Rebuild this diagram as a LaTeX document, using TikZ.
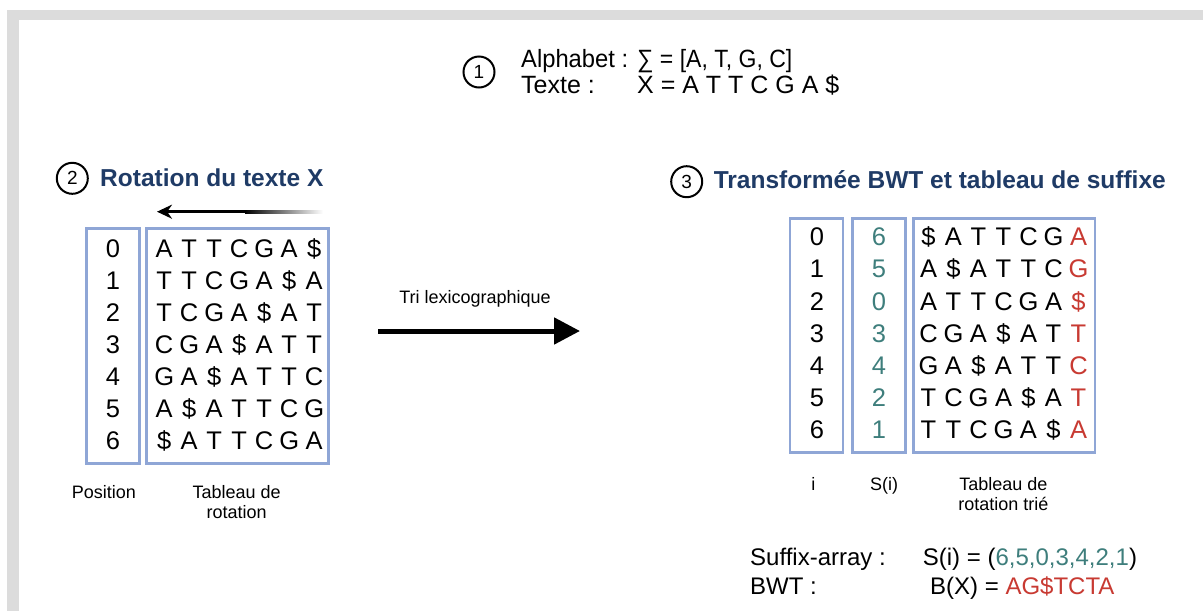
\documentclass[tikz,border=0pt]{standalone}
\usepackage{fontspec}
\setmainfont{Liberation Sans}
\usetikzlibrary{arrows.meta}
\definecolor{framegray}{HTML}{DCDCDC}
\definecolor{boxblue}{HTML}{8FA6D6}
\definecolor{titlenavy}{HTML}{1F3B66}
\definecolor{sidteal}{HTML}{3E7E7C}
\definecolor{bwtred}{HTML}{C83A32}
\newcommand\tcell[1]{\makebox[25pt][c]{#1}}
\newcommand\rotrow[7]{\tcell{#1}\tcell{#2}\tcell{#3}\tcell{#4}\tcell{#5}\tcell{#6}\tcell{#7}}
\newcommand\rotrowred[7]{\tcell{#1}\tcell{#2}\tcell{#3}\tcell{#4}\tcell{#5}\tcell{#6}\tcell{\textcolor{bwtred}{#7}}}
\begin{document}
\begin{tikzpicture}[x=1pt,y=-1pt,
  num/.style={circle,draw,line width=2pt,minimum size=31pt,inner sep=0pt,font=\fontsize{19}{19}\selectfont},
  txt/.style={anchor=base west,inner sep=0pt},
  toptxt/.style={txt,font=\fontsize{25}{30}\selectfont},
  bottxt/.style={txt,font=\fontsize{24}{29}\selectfont},
  lbl/.style={anchor=base,inner sep=0pt,font=\fontsize{18}{22}\selectfont},
  tbox/.style={draw=boxblue,line width=2.5pt,inner sep=0pt},
  cellt/.style={anchor=base,inner sep=0pt,font=\fontsize{25.5}{30}\selectfont},
  rowt/.style={anchor=base west,inner sep=0pt,font=\fontsize{25.5}{30}\selectfont},
  ttl/.style={anchor=base west,inner sep=0pt,text=titlenavy,font=\bfseries\fontsize{24.5}{29}\selectfont}]
\useasboundingbox (0,0) rectangle (1203,611);
% frame
\fill[framegray] (7,10) rectangle (1203,611);
\fill[white] (19,20) rectangle (1203,611);

% ---- part 1
\node[num] (c1) at (479,72) {1};
\node[toptxt] (alpha) at (521,67) {\scalebox{0.95}[1]{Alphabet :}};
\node[toptxt] (sigma) at (637,67) {\scalebox{0.92}[1]{∑ = [A, T, G, C]}};
\node[toptxt] (texte) at (521,93) {Texte :};
\node[toptxt] (xval) at (637,93) {X = A T T C G A \$};

% ---- part 2
\node[num] (c2) at (72.3,178.3) {2};
\node[ttl] (t2) at (100,186.7) {Rotation du texte X};
\coordinate (ga) at (157,211.7);
\coordinate (gb) at (245,211.7);
\shade[left color=black,right color=white] (245,210.2) rectangle (323,213.2);
\draw[line width=3pt,-{Stealth[length=15pt,width=14pt]}] (gb) -- (ga);

\node[tbox,minimum width=52.6pt,minimum height=235pt] (posbox) at (113,345.8) {};
\node[tbox,minimum width=181.6pt,minimum height=235pt] (rotbox) at (237.5,345.8) {};
\foreach \i in {0,...,6}
  \node[cellt] (p\i) at (113,257.3+32*\i) {\i};
\node[rowt] (r0) at (151.5,257.3) {\rotrow{A}{T}{T}{C}{G}{A}{\$}};
\node[rowt] (r1) at (151.5,289.3) {\rotrow{T}{T}{C}{G}{A}{\$}{A}};
\node[rowt] (r2) at (151.5,321.3) {\rotrow{T}{C}{G}{A}{\$}{A}{T}};
\node[rowt] (r3) at (151.5,353.3) {\rotrow{C}{G}{A}{\$}{A}{T}{T}};
\node[rowt] (r4) at (151.5,385.3) {\rotrow{G}{A}{\$}{A}{T}{T}{C}};
\node[rowt] (r5) at (151.5,417.3) {\rotrow{A}{\$}{A}{T}{T}{C}{G}};
\node[rowt] (r6) at (151.5,449.3) {\rotrow{\$}{A}{T}{T}{C}{G}{A}};
\node[lbl] (lpos) at (104,498.3) {Position};
\node[lbl] (lrot1) at (236.7,498.3) {Tableau de};
\node[lbl] (lrot2) at (236.7,518.3) {rotation};

% ---- middle arrow
\coordinate (m1) at (378,331);
\coordinate (m2) at (580,331);
\draw[line width=5pt,-{Triangle[length=26pt,width=26pt]}] (m1) -- (m2);
\node[lbl] (lex) at (475,303.3) {Tri lexicographique};

% ---- part 3
\node[num] (c3) at (686.7,181.7) {3};
\node[ttl] (t3) at (713.6,188.3) {Transformée BWT et tableau de suffixe};
\node[tbox,minimum width=52.7pt,minimum height=234.4pt] (ibox) at (816.4,335.5) {};
\node[tbox,minimum width=52.6pt,minimum height=234.4pt] (sbox) at (879,335.5) {};
\node[tbox,minimum width=181.7pt,minimum height=234.4pt] (sortbox) at (1004.2,335.5) {};
\foreach \i in {0,...,6}
  \node[cellt] (i\i) at (817,245.7+32.2*\i) {\i};
\foreach \s [count=\i from 0] in {6,5,0,3,4,2,1}
  \node[cellt,text=sidteal] (s\i) at (879,245.7+32.2*\i) {\s};
\node[rowt] (q0) at (915.8,245.7) {\rotrowred{\$}{A}{T}{T}{C}{G}{A}};
\node[rowt] (q1) at (915.8,277.9) {\rotrowred{A}{\$}{A}{T}{T}{C}{G}};
\node[rowt] (q2) at (915.8,310.1) {\rotrowred{A}{T}{T}{C}{G}{A}{\$}};
\node[rowt] (q3) at (915.8,342.3) {\rotrowred{C}{G}{A}{\$}{A}{T}{T}};
\node[rowt] (q4) at (915.8,374.5) {\rotrowred{G}{A}{\$}{A}{T}{T}{C}};
\node[rowt] (q5) at (915.8,406.7) {\rotrowred{T}{C}{G}{A}{\$}{A}{T}};
\node[rowt] (q6) at (915.8,438.9) {\rotrowred{T}{T}{C}{G}{A}{\$}{A}};
\node[lbl] (li) at (813.4,490.5) {i};
\node[lbl] (lsi) at (884,490.5) {S(i)};
\node[lbl] (ls1) at (1003.4,490.5) {Tableau de};
\node[lbl] (ls2) at (1003.4,510.5) {rotation trié};

% ---- results
\node[bottxt] (sa) at (750,565) {Suffix-array :};
\node[bottxt] (saval) at (922.7,565) {S(i) = (\textcolor{sidteal}{6,5,0,3,4,2,1})};
\node[bottxt] (bwt) at (750,594) {BWT :};
\node[bottxt] (bwtval) at (930,594) {B(X) = \textcolor{bwtred}{AG\$TCTA}};
\end{tikzpicture}
\end{document}
